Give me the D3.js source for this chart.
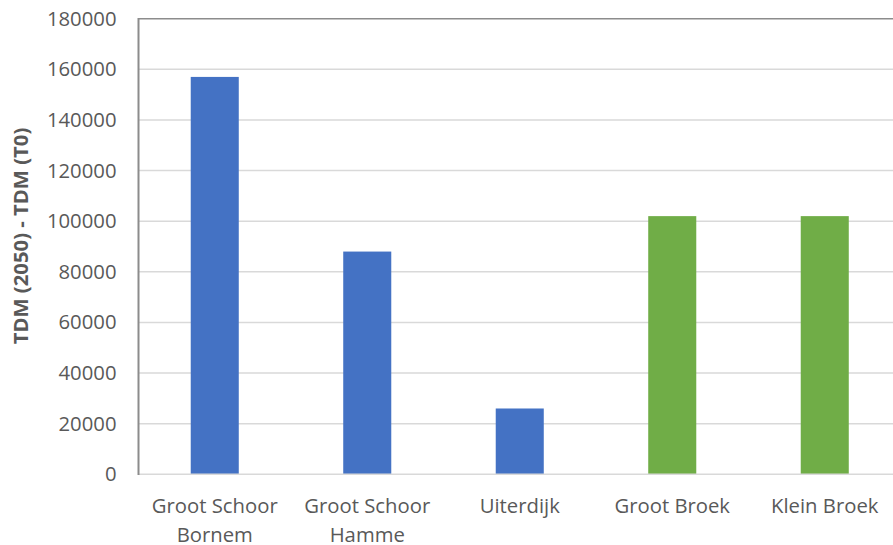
<!DOCTYPE html>
<html>
<head>
<meta charset="utf-8">
<script src="https://cdn.jsdelivr.net/npm/d3@7"></script>
<style>
  html, body { margin: 0; padding: 0; background: #fff; }
  svg { display: block; }
</style>
</head>
<body>
<svg id="chart" width="893" height="545"></svg>
<script>
// Areas (two label lines each) and their TDM difference values
const categories = [
  ["Groot Schoor", "Bornem"],
  ["Groot Schoor", "Hamme"],
  ["Uiterdijk"],
  ["Groot Broek"],
  ["Klein Broek"]
];
const values = [157000, 88000, 26000, 102000, 102000];
const groups = ["blue", "blue", "blue", "green", "green"];
const yTicks = [0, 20000, 40000, 60000, 80000, 100000, 120000, 140000, 160000, 180000];
const yTitle = "TDM (2050) - TDM (T0)";

const colors = { blue: "#4472C4", green: "#70AD47" };
const font = "'Open Sans', sans-serif";
const fontSize = 20.3;

const svg = d3.select("#chart");
const plotLeft = 138.5, plotTop = 18.7, plotBottom = 474.3;
const step = 152.5;
const plotRight = plotLeft + step * categories.length;

const x = d3.scaleBand()
  .domain(d3.range(categories.length))
  .range([plotLeft, plotRight])
  .padding(0);
const y = d3.scaleLinear().domain([0, 180000]).range([plotBottom, plotTop]);

const barW = x.bandwidth() * 0.315;

// horizontal gridlines
svg.append("g").selectAll("line")
  .data(yTicks.filter(t => t > 0 && t < 180000))
  .join("line")
  .attr("x1", plotLeft).attr("x2", plotRight)
  .attr("y1", d => y(d)).attr("y2", d => y(d))
  .attr("stroke", "#d9d9d9").attr("stroke-width", 1.5);

// top border line
svg.append("line")
  .attr("x1", plotLeft).attr("x2", plotRight)
  .attr("y1", y(180000)).attr("y2", y(180000))
  .attr("stroke", "#8c8c8c").attr("stroke-width", 1.5);

// bars
svg.append("g").selectAll("rect")
  .data(values)
  .join("rect")
  .attr("x", (d, i) => x(i) + x.bandwidth() / 2 - barW / 2)
  .attr("width", barW)
  .attr("y", d => y(d))
  .attr("height", d => y(0) - y(d))
  .attr("fill", (d, i) => colors[groups[i]]);

// baseline
svg.append("line")
  .attr("x1", plotLeft).attr("x2", plotRight)
  .attr("y1", y(0)).attr("y2", y(0))
  .attr("stroke", "#d9d9d9").attr("stroke-width", 1.5);

// left axis line
svg.append("line")
  .attr("x1", plotLeft).attr("x2", plotLeft)
  .attr("y1", y(180000) - 0.75).attr("y2", y(0) + 0.75)
  .attr("stroke", "#8c8c8c").attr("stroke-width", 2);

// y tick labels
const yAxis = d3.axisLeft(y).tickValues(yTicks).tickSize(0).tickPadding(22).tickFormat(d3.format("d"));
const yg = svg.append("g").attr("transform", `translate(${plotLeft},0)`).call(yAxis);
yg.select(".domain").remove();
yg.selectAll("text")
  .attr("font-family", font)
  .attr("font-size", fontSize)
  .attr("fill", "#595959");

// x category labels
const xg = svg.append("g");
categories.forEach((lines, i) => {
  const t = xg.append("text")
    .attr("x", x(i) + x.bandwidth() / 2)
    .attr("y", 513)
    .attr("text-anchor", "middle")
    .attr("font-family", font)
    .attr("font-size", fontSize)
    .attr("fill", "#595959");
  lines.forEach((s, k) => {
    t.append("tspan")
      .attr("x", x(i) + x.bandwidth() / 2)
      .attr("dy", k === 0 ? 0 : 29)
      .text(s);
  });
});

// y axis title
svg.append("text")
  .attr("transform", "translate(28,236) rotate(-90)")
  .attr("text-anchor", "middle")
  .attr("font-family", font)
  .attr("font-weight", "bold")
  .attr("font-size", fontSize)
  .attr("fill", "#595959")
  .text(yTitle);
</script>
</body>
</html>
